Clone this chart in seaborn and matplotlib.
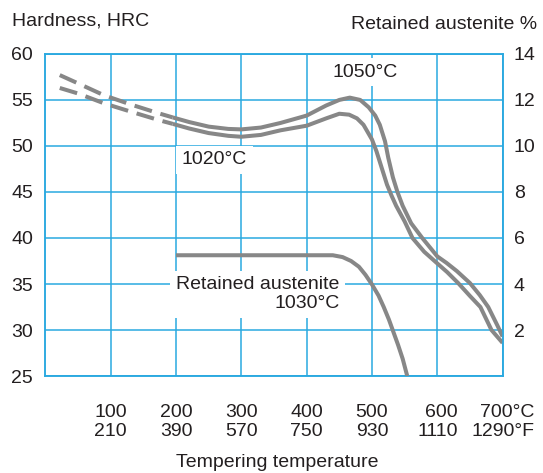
import matplotlib
matplotlib.use('Agg')
import matplotlib.pyplot as plt
import seaborn as sns

# hardness curves (temperature in °C, hardness in HRC)
temp_1050_dash = [22, 50, 90, 131, 171, 195]
hrc_1050_dash = [57.7, 56.8, 55.5, 54.5, 53.6, 53.1]
temp_1050 = [195, 220, 250, 280, 300, 330, 360, 400, 430, 450, 466, 482, 495, 505, 512,
             520, 525, 532, 539, 547, 560, 577, 600, 614, 630, 650, 665, 678, 692, 700]
hrc_1050 = [53.1, 52.6, 52.1, 51.85, 51.8, 52.0, 52.5, 53.3, 54.4, 55.0, 55.25, 55.0, 54.2, 53.3, 52.3,
            50.5, 48.7, 46.6, 45.0, 43.5, 41.6, 40.0, 38.0, 37.3, 36.4, 35.1, 33.8, 32.5, 30.5, 29.3]

temp_1020_dash = [22, 50, 91, 132, 174, 195]
hrc_1020_dash = [56.3, 55.7, 54.6, 53.7, 52.8, 52.4]
temp_1020 = [195, 220, 250, 280, 300, 330, 360, 400, 430, 450, 465, 477, 487, 500, 507,
             515, 523, 530, 537, 550, 562, 580, 599, 615, 632, 650, 666, 683, 700]
hrc_1020 = [52.4, 51.9, 51.4, 51.1, 51.0, 51.2, 51.7, 52.2, 53.0, 53.5, 53.4, 53.0, 52.3, 50.7, 49.4,
            47.6, 45.8, 44.6, 43.5, 41.8, 40.0, 38.5, 37.3, 36.3, 35.1, 33.7, 32.5, 30.0, 28.6]

# retained austenite (%) for 1030°C
temp_ra = [200, 300, 400, 440, 455, 468, 480, 490, 500, 510, 518, 526, 533, 540, 547, 554]
ra_1030 = [5.25, 5.25, 5.25, 5.25, 5.17, 5.0, 4.75, 4.4, 3.98, 3.5, 3.0, 2.45, 1.9, 1.35, 0.75, 0.0]

x_ticks = [100, 200, 300, 400, 500, 600, 700]
x_labels = ['100\n210', '200\n390', '300\n570', '400\n750', '500\n930', '600\n1110', '700°C\n1290°F']
hrc_ticks = [25, 30, 35, 40, 45, 50, 55, 60]
ra_ticks = [2, 4, 6, 8, 10, 12, 14]

sns.set_style('white')
plt.rcParams['font.family'] = ['Liberation Sans', 'DejaVu Sans']

grid_blue = '#2aa9e0'
curve_grey = '#878787'
text_col = '#231f20'

fig = plt.figure(figsize=(5.43, 4.73), dpi=100)
ax = fig.add_axes([0.0836, 0.205, 0.842, 0.681])
ax2 = ax.twinx()

# hardness curves
dash = (0, (4.5, 2.2))
line_kw = dict(color=curve_grey, lw=2.9, sort=False, estimator=None, zorder=3,
               solid_joinstyle='round', solid_capstyle='butt')
sns.lineplot(x=temp_1050_dash, y=hrc_1050_dash, ax=ax, ls=dash, **line_kw)
sns.lineplot(x=temp_1020_dash, y=hrc_1020_dash, ax=ax, ls=dash, **line_kw)
sns.lineplot(x=temp_1050, y=hrc_1050, ax=ax, **line_kw)
sns.lineplot(x=temp_1020, y=hrc_1020, ax=ax, **line_kw)

# retained austenite curve on the right axis
sns.lineplot(x=temp_ra, y=ra_1030, ax=ax2, **line_kw)

ax.set_xlim(0, 700)
ax.set_ylim(25, 60)
ax2.set_ylim(0, 14)

ax.set_xticks(x_ticks)
ax.set_xticklabels(x_labels)
for lbl in ax.get_xticklabels():
    lbl.set_multialignment('right')
ax.set_yticks(hrc_ticks)
ax2.set_yticks(ra_ticks)

ax.tick_params(axis='both', length=0, labelsize=14, labelcolor=text_col)
ax.tick_params(axis='x', pad=20)
ax.tick_params(axis='y', pad=9)
ax2.tick_params(axis='y', length=0, labelsize=14, labelcolor=text_col, pad=8)

ax.grid(True, color=grid_blue, lw=1.1)
ax.set_axisbelow(True)
for a in (ax, ax2):
    for s in a.spines.values():
        s.set_color(grid_blue)
        s.set_linewidth(1.1)
ax.set_xlabel('')
ax.set_ylabel('')
ax2.set_ylabel('')

box = dict(facecolor='white', edgecolor='none', pad=4)
ax.text(489, 58.0, '1050°C', fontsize=14, color=text_col, ha='center', va='center', bbox=box, zorder=2)
ax.text(259, 48.5, '1020°C', fontsize=14, color=text_col, ha='center', va='center', bbox=box, zorder=2)
ax.text(450, 33.9, 'Retained austenite\n1030°C', fontsize=14, color=text_col, ha='right', va='center',
        multialignment='right', linespacing=1.15, bbox=box, zorder=2)

fig.text(12 / 543, 1 - 26 / 473, 'Hardness, HRC', fontsize=14, color=text_col, ha='left', va='baseline')
fig.text(537 / 543, 1 - 29 / 473, 'Retained austenite %', fontsize=14, color=text_col, ha='right', va='baseline')
fig.text(277 / 543, 1 - 467 / 473, 'Tempering temperature', fontsize=14, color=text_col, ha='center', va='baseline')

fig.savefig('out.png', dpi=100)
